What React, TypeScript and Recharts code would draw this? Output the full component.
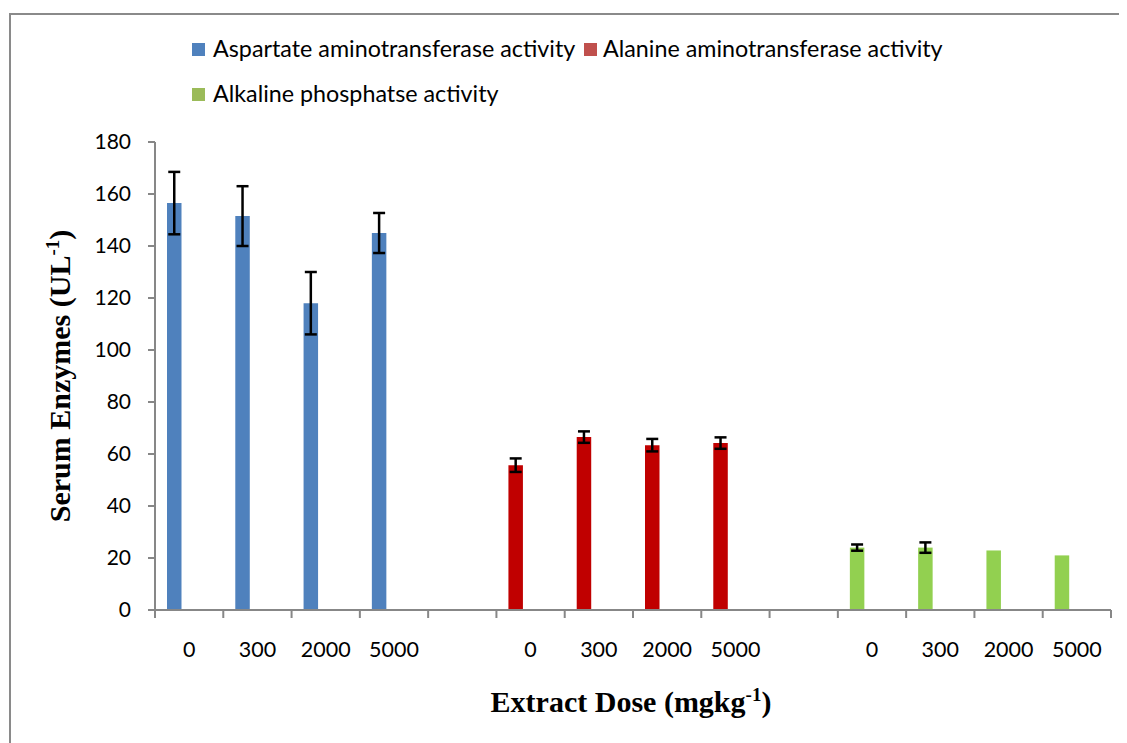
import React from 'react';
import { BarChart, Bar, XAxis, YAxis, Cell, ErrorBar, Label } from 'recharts';

const categories = ['0', '300', '2000', '5000', '', '0', '300', '2000', '5000', '', '0', '300', '2000', '5000'];
const values = [156.5, 151.5, 118, 145, null, 55.7, 66.5, 63.4, 64.2, null, 24.0, 24.0, 22.9, 21.0];
const errors = [12, 11.5, 12, 7.7, null, 2.6, 2.2, 2.4, 2.2, null, 1.2, 2.0, null, null];
const barColors = ['#4F81BD', '#4F81BD', '#4F81BD', '#4F81BD', '#ffffff', '#C00000', '#C00000', '#C00000', '#C00000', '#ffffff', '#92D050', '#92D050', '#92D050', '#92D050'];
const seriesNames = ['Aspartate aminotransferase activity', 'Alanine aminotransferase activity', 'Alkaline phosphatse activity'];
const legendColors = ['#4F81BD', '#C0504D', '#9BBB59'];
const yTicks = [0, 20, 40, 60, 80, 100, 120, 140, 160, 180];

const data = categories.map((c, i) => ({
  label: c,
  value: values[i],
  err: errors[i],
}));

const AXIS = '#878787';
const W = 1119;
const H = 735;
const MARGIN = { top: 134, right: 16, left: 87, bottom: 73 };
const Y_AXIS_W = 60;
const PLOT_W = W - MARGIN.left - MARGIN.right - Y_AXIS_W;
const BAND = PLOT_W / categories.length;
const TICK_FONT = 'Lato, "Open Sans", sans-serif';
const SERIF = '"Liberation Serif", "Times New Roman", serif';

function XTick(props: any) {
  const { x, y, payload, index } = props;
  const left = x - BAND / 2;
  const right = x + BAND / 2;
  return (
    <g>
      <line x1={left} y1={y} x2={left} y2={y + 8} stroke={AXIS} strokeWidth={2} />
      {index === categories.length - 1 && (
        <line x1={right} y1={y} x2={right} y2={y + 8} stroke={AXIS} strokeWidth={2} />
      )}
      <text x={x} y={y + 47} textAnchor="middle" fontSize={21.5} fontFamily={TICK_FONT} fill="#000">
        {payload.value}
      </text>
    </g>
  );
}

function YTitle() {
  return (
    <text
      transform="translate(62,368) rotate(-90)"
      textAnchor="middle"
      fontSize={30}
      fontWeight="bold"
      fontFamily={SERIF}
      fill="#000"
    >
      Serum Enzymes (UL
      <tspan dy={-11} fontSize={19}>-1</tspan>
      <tspan dy={11}>)</tspan>
    </text>
  );
}

function XTitle() {
  return (
    <text x={623} y={704} textAnchor="middle" fontSize={30} fontWeight="bold" fontFamily={SERIF} fill="#000">
      Extract Dose (mgkg
      <tspan dy={-11} fontSize={19}>-1</tspan>
      <tspan dy={11}>)</tspan>
    </text>
  );
}

const legendPos = [
  { sx: 184, sy: 35, tx: 205, ty: 49 },
  { sx: 576, sy: 35, tx: 595, ty: 49 },
  { sx: 184, sy: 80, tx: 205, ty: 94 },
];

export default function App() {
  return (
    <div style={{ position: 'relative', width: W, height: H, overflow: 'hidden' }}>
      <div
        style={{
          position: 'absolute',
          left: 1,
          top: 5,
          right: -50,
          bottom: -50,
          borderLeft: '2px solid #8a8a8a',
          borderTop: '2px solid #8a8a8a',
        }}
      />
      <BarChart width={W} height={H} data={data} margin={MARGIN} barGap={0}>
        <XAxis
          dataKey="label"
          height={60}
          interval={0}
          tickSize={0}
          tickMargin={0}
          tickLine={false}
          tick={<XTick />}
          axisLine={{ stroke: AXIS, strokeWidth: 2 }}
        >
          <Label content={<XTitle />} />
        </XAxis>
        <YAxis
          width={Y_AXIS_W}
          domain={[0, 180]}
          ticks={yTicks}
          interval={0}
          tickSize={7}
          tickMargin={17}
          tick={{ fontSize: 21, fontFamily: TICK_FONT, fill: '#000' }}
          tickLine={{ stroke: AXIS, strokeWidth: 2 }}
          axisLine={{ stroke: AXIS, strokeWidth: 2 }}
        >
          <Label content={<YTitle />} />
        </YAxis>
        <Bar dataKey="value" barSize={14.5} isAnimationActive={false}>
          {data.map((d, i) => (
            <Cell key={i} fill={barColors[i]} />
          ))}
          <ErrorBar dataKey="err" width={6} stroke="#000" strokeWidth={2.5} />
        </Bar>
        <Bar dataKey="pad1" barSize={14.5} isAnimationActive={false} />
        <Bar dataKey="pad2" barSize={14.5} isAnimationActive={false} />
      </BarChart>
      <svg width={W} height={120} style={{ position: 'absolute', left: 0, top: 0, pointerEvents: 'none' }}>
        {seriesNames.map((name, i) => (
          <g key={name}>
            <rect x={legendPos[i].sx} y={legendPos[i].sy} width={13} height={13} fill={legendColors[i]} />
            <text x={legendPos[i].tx} y={legendPos[i].ty} fontSize={23.3} fontFamily={TICK_FONT} fill="#000">
              {name}
            </text>
          </g>
        ))}
      </svg>
    </div>
  );
}
